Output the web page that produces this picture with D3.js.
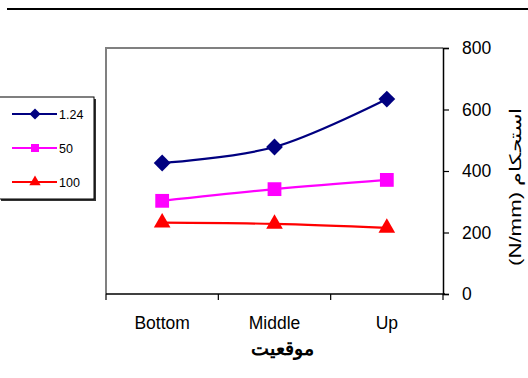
<!DOCTYPE html>
<html>
<head>
<meta charset="utf-8">
<script src="https://cdn.jsdelivr.net/npm/d3@7"></script>
<style>
  html, body { margin: 0; padding: 0; background: #fff; }
  svg { display: block; }
  text { font-family: Arial, "Liberation Sans", sans-serif; fill: #000; }
</style>
</head>
<body>
<svg id="chart" width="528" height="378"></svg>
<script>
// Strength by position for three series
const categories = ["Bottom", "Middle", "Up"];
const seriesNames = ["1.24", "50", "100"];
const values124 = [426, 478, 634];
const values50 = [303, 341, 371];
const values100 = [232, 228, 215];
const yTicks = [0, 200, 400, 600, 800];
const xTitle = "موقعیت";
const yTitle = "(N/mm) استحکام";

const diamond = d3.symbolDiamond2 || d3.symbolDiamond;
const series = [
  { name: seriesNames[0], values: values124, color: "#000080", symbol: diamond, size: 180, legendSize: 80 },
  { name: seriesNames[1], values: values50, color: "#FF00FF", symbol: d3.symbolSquare, size: 190, legendSize: 64 },
  { name: seriesNames[2], values: values100, color: "#FF0000", symbol: d3.symbolTriangle, size: 120, legendSize: 56 }
];

const svg = d3.select("#chart");
const plotLeft = 106, plotRight = 443, plotTop = 48, plotBottom = 294;

const x = d3.scaleBand().domain(categories).range([plotLeft, plotRight]).padding(0);
const y = d3.scaleLinear().domain([0, 800]).range([plotBottom, plotTop]);

// rule along the top of the page
svg.append("line").attr("x1", 7).attr("x2", 528).attr("y1", 9).attr("y2", 9)
  .attr("stroke", "#000").attr("stroke-width", 2);

// plot frame (left and top edges)
svg.append("path")
  .attr("d", `M${plotLeft},${plotBottom} V${plotTop} H${plotRight}`)
  .attr("fill", "none").attr("stroke", "#808080").attr("stroke-width", 2);

// right value axis
const yAxis = svg.append("g").attr("transform", `translate(${plotRight},0)`)
  .call(d3.axisRight(y).tickValues(yTicks).tickSize(6).tickPadding(13).tickFormat(d3.format("d")));
yAxis.select(".domain").attr("stroke", "#000").attr("stroke-width", 1.5);
yAxis.selectAll(".tick line").attr("stroke", "#000").attr("stroke-width", 1.2);
yAxis.selectAll(".tick text").style("font-size", "17.5px").attr("fill", "#000");

// bottom category axis: labels at band centres
const xAxis = svg.append("g").attr("transform", `translate(0,${plotBottom})`)
  .call(d3.axisBottom(x).tickSize(0).tickPadding(23));
xAxis.select(".domain").remove();
xAxis.selectAll(".tick text").style("font-size", "17.5px").attr("fill", "#000");

// axis line with tick marks at band edges
svg.append("line").attr("x1", plotLeft).attr("x2", plotRight + 2).attr("y1", plotBottom).attr("y2", plotBottom)
  .attr("stroke", "#000").attr("stroke-width", 1.5);
const edges = categories.map(c => x(c)).concat([x(categories[categories.length - 1]) + x.bandwidth()]);
svg.selectAll(".xedge").data(edges).enter().append("line")
  .attr("class", "xedge")
  .attr("x1", d => d).attr("x2", d => d)
  .attr("y1", plotBottom).attr("y2", plotBottom + 6)
  .attr("stroke", "#000").attr("stroke-width", 1.2);

// axis titles
svg.append("text").attr("x", (plotLeft + plotRight) / 2 + 8).attr("y", 355)
  .attr("text-anchor", "middle").style("font-size", "19px").style("font-weight", "bold")
  .text(xTitle);

svg.append("text")
  .attr("transform", "translate(521,187) rotate(-90)")
  .attr("text-anchor", "middle")
  .attr("textLength", 158).attr("lengthAdjust", "spacingAndGlyphs")
  .style("font-size", "16px")
  .text(yTitle);

// series lines and markers
const line = d3.line()
  .x((d, i) => x(categories[i]) + x.bandwidth() / 2)
  .y(d => y(d))
  .curve(d3.curveCatmullRom.alpha(0.5));

series.forEach(s => {
  svg.append("path").datum(s.values)
    .attr("d", line).attr("fill", "none")
    .attr("stroke", s.color).attr("stroke-width", 2.2);
  svg.selectAll(null).data(s.values).enter().append("path")
    .attr("d", d3.symbol().type(s.symbol).size(s.size))
    .attr("transform", (d, i) => `translate(${x(categories[i]) + x.bandwidth() / 2},${y(d)})`)
    .attr("fill", s.color);
});

// legend
const lg = svg.append("g");
lg.append("rect").attr("x", 1).attr("y", 99).attr("width", 95).attr("height", 102).attr("fill", "#333");
lg.append("rect").attr("x", -1).attr("y", 97).attr("width", 95).attr("height", 102)
  .attr("fill", "#fff").attr("stroke", "#000").attr("stroke-width", 1);
const legendY = [114, 148, 182];
series.forEach((s, i) => {
  const yy = legendY[i];
  lg.append("line").attr("x1", 12).attr("x2", 57).attr("y1", yy).attr("y2", yy)
    .attr("stroke", s.color).attr("stroke-width", 2);
  lg.append("path").attr("d", d3.symbol().type(s.symbol).size(s.legendSize))
    .attr("transform", `translate(35,${yy})`).attr("fill", s.color);
  lg.append("text").attr("x", 59).attr("y", yy + 4.5).style("font-size", "12.5px").text(s.name);
});
</script>
</body>
</html>
